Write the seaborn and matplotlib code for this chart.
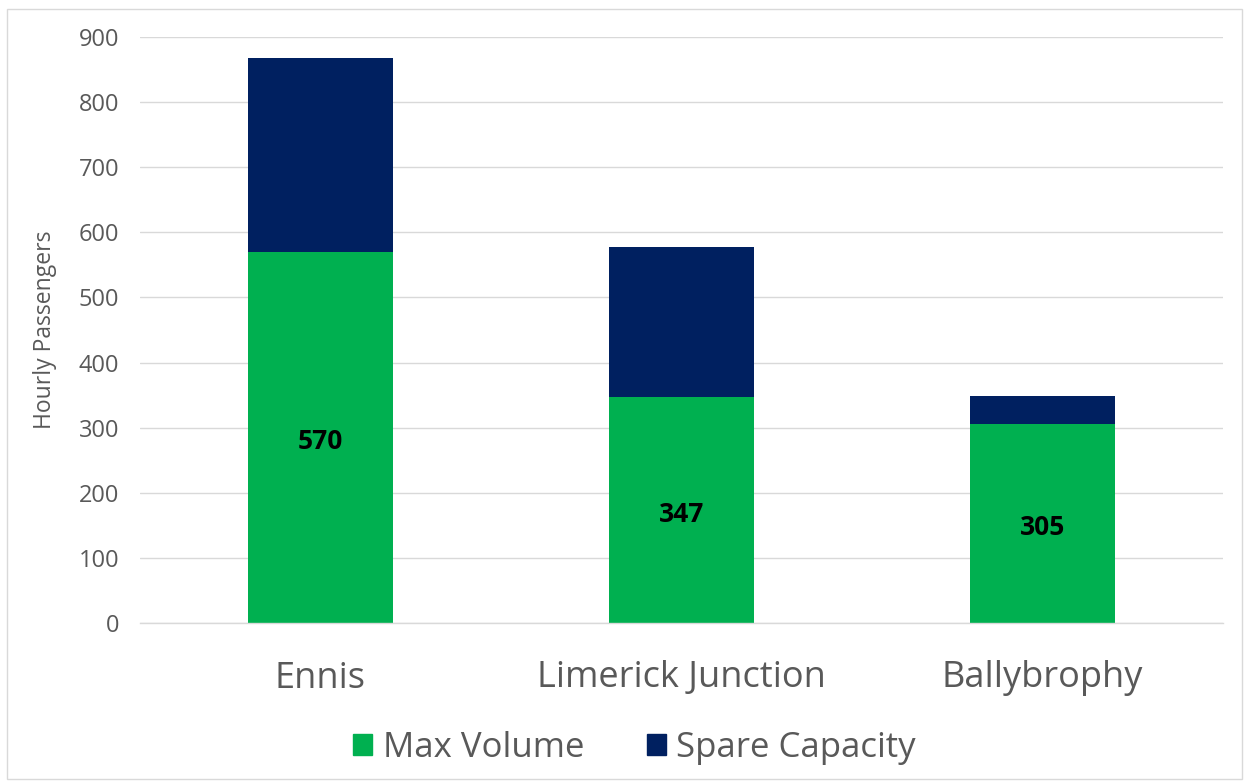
import pandas as pd
import seaborn as sns
import matplotlib.pyplot as plt
from matplotlib.patches import Patch, Rectangle

stations = ['Ennis', 'Limerick Junction', 'Ballybrophy']
max_volume = [570, 347, 305]
spare_capacity = [297, 231, 44]

green = '#00B050'
navy = '#002060'
grey = '#595959'

df = pd.DataFrame({'station': stations, 'max': max_volume, 'spare': spare_capacity})
df['total'] = df['max'] + df['spare']

sns.set_style('white')
plt.rcParams['font.family'] = ['Open Sans', 'DejaVu Sans']

fig = plt.figure(figsize=(12.49, 7.83), dpi=100)
ax = fig.add_axes([140 / 1249, 1 - 623 / 783, (1223 - 140) / 1249, (623 - 37) / 783])

sns.barplot(data=df, x='station', y='total', color=navy, width=0.4, saturation=1,
            linewidth=0, ax=ax)
sns.barplot(data=df, x='station', y='max', color=green, width=0.4, saturation=1,
            linewidth=0, ax=ax)

ax.bar_label(ax.containers[1], labels=[str(v) for v in max_volume], label_type='center',
             fontsize=19, fontweight='bold', color='black', padding=-3)

ax.set_ylim(0, 900)
ax.set_xlim(-0.5, 2.5)
ax.set_yticks(range(0, 901, 100))
ax.yaxis.grid(True, color='#D9D9D9', linewidth=1)
ax.set_axisbelow(True)
for s in ['top', 'right', 'left']:
    ax.spines[s].set_visible(False)
ax.spines['bottom'].set_color('#D9D9D9')
ax.spines['bottom'].set_linewidth(1)
ax.tick_params(axis='y', length=0, pad=15, labelsize=17, labelcolor=grey)
ax.tick_params(axis='x', length=0, pad=27, labelsize=26, labelcolor=grey)
ax.set_xlabel('')
ax.set_ylabel('Hourly Passengers', fontsize=16.5, color=grey)
ax.yaxis.set_label_coords(-(140 - 57) / (1223 - 140), 0.5)

handles = [Patch(color=green, label='Max Volume'), Patch(color=navy, label='Spare Capacity')]
fig.legend(handles=handles, loc='center', bbox_to_anchor=(0.508, 1 - 748 / 783), ncol=2,
           frameon=False, fontsize=25, labelcolor=grey, handlelength=0.55, handleheight=0.55,
           handletextpad=0.3, columnspacing=1.8)

fig.patches.append(Rectangle((7 / 1249, 1 - 779 / 783), 1235 / 1249, 770 / 783,
                             transform=fig.transFigure, fill=False, edgecolor='#D9D9D9', linewidth=1))

fig.savefig('out.png', dpi=100)
